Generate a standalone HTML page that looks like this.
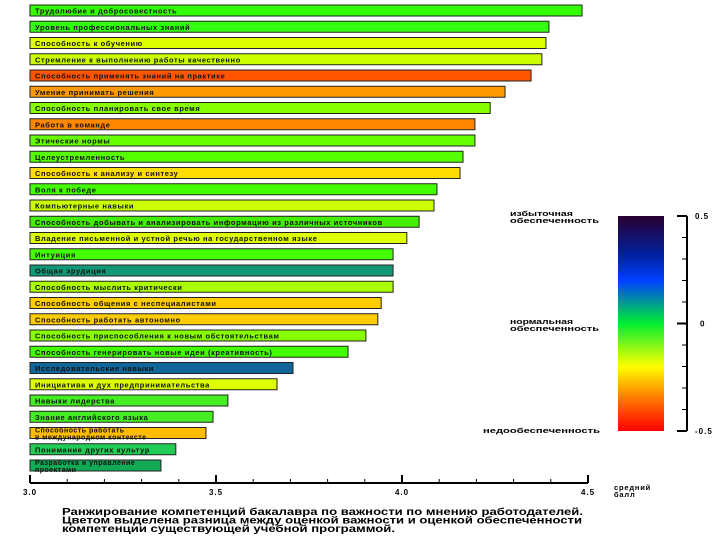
<!DOCTYPE html>
<html><head><meta charset="utf-8"><style>
body{margin:0;background:#fff;width:720px;height:540px;overflow:hidden;font-family:"Liberation Sans","DejaVu Sans",sans-serif;}
svg text{font-family:"Liberation Sans","DejaVu Sans",sans-serif;font-weight:bold;}
</style></head><body>
<svg id="chart" width="720" height="540">
<defs><linearGradient id="cb" x1="0" y1="0" x2="0" y2="1">
<stop offset="0" stop-color="#2a0030"/><stop offset="0.18" stop-color="#0020a0"/><stop offset="0.3" stop-color="#0040ff"/><stop offset="0.5" stop-color="#00ee30"/><stop offset="0.7" stop-color="#ffff00"/><stop offset="0.85" stop-color="#ff7700"/><stop offset="1" stop-color="#ff0000"/>
</linearGradient></defs>
<g id="bars"></g>
<g id="xaxis"></g>
<g id="cbar"></g>
</svg>
<script>
const categories=["Трудолюбие и добросовестность","Уровень профессиональных знаний","Способность к обучению","Стремление к выполнению работы качественно","Способность применять знаний на практике","Умение принимать решения","Способность планировать свое время","Работа в команде","Этические нормы","Целеустремленность","Способность к анализу и синтезу","Воля к победе","Компьютерные навыки","Способность добывать и анализировать информацию из различных источников","Владение письменной и устной речью на государственном языке","Интуиция","Общая эрудиция","Способность мыслить критически","Способность общения с неспециалистами","Способность работать автономно","Способность приспособления к новым обстоятельствам","Способность генерировать новые идеи (креативность)","Исследовательские навыки","Инициатива и дух предпринимательства","Навыки лидерства","Знание английского языка","Способность работать\nв международном контексте","Понимание других культур","Разработка и управление\nпроектами"];
const scores=[4.484,4.395,4.387,4.376,4.347,4.277,4.237,4.196,4.196,4.164,4.156,4.094,4.086,4.046,4.013,3.976,3.976,3.976,3.944,3.935,3.903,3.855,3.707,3.664,3.532,3.492,3.473,3.392,3.352];
const colors=["#33ff00","#33ff11","#ddff00","#ccff00","#ff5500","#ff9900","#88ff00","#ff8800","#66ff00","#55ff00","#ffdd00","#44ff00","#ccff00","#44ee00","#ddff00","#44ff00","#119977","#aaff00","#ffcc00","#ffcc00","#88ff00","#44ff00","#116699","#ddff00","#44ee22","#44ee22","#ffbb00","#22cc55","#11aa55"];
const xTicks=["3.0","3.5","4.0","4.5"];
const cbTicks=["0.5","0","-0.5"];
const NS="http://www.w3.org/2000/svg";
function x(v){return 30+(v-3)*372;}
function y(i){return 5+i*16.25;}
function mk(t,a,p){const e=document.createElementNS(NS,t);for(const k in a)e.setAttribute(k,a[k]);p.appendChild(e);return e;}
const bars=document.getElementById('bars');
categories.forEach((c,i)=>{
 const r=mk('rect',{x:30,y:y(i),width:x(scores[i])-30,height:11,fill:colors[i],stroke:'#222','stroke-width':1},bars);
 
 
 const lines=c.split('\n');
 lines.forEach((l,j)=>{
  const t=mk('text',{x:35,y:lines.length>1?y(i)+5+j*7:y(i)+8.5,'font-size':lines.length>1?7:7.5,'letter-spacing':lines.length>1?0.5:0.6,fill:'#111'},bars);
  t.textContent=l;
  
  
 });
});
const xa=document.getElementById('xaxis');
const base=483;
const al=mk('line',{x1:30,y1:base,x2:x(4.5),y2:base,stroke:'#000','stroke-width':2},xa);


for(let k=0;k<=15;k++){const v=3+k*0.1;const maj=k%5==0;mk('line',{x1:x(v),y1:base,x2:x(v),y2:base-(maj?8:4),stroke:'#000','stroke-width':maj?2:1},xa);}
xTicks.forEach(s=>{const t=mk('text',{x:x(+s),y:base+12,'font-size':8,'letter-spacing':1,'text-anchor':'middle'},xa);t.textContent=s;
 
 });
[['средний',614,490],['балл',614,497]].forEach(a=>{const t=mk('text',{x:a[1],y:a[2],'font-size':7.5,'letter-spacing':0.8},xa);t.textContent=a[0];
 
 });
[['Ранжирование компетенций бакалавра по важности по мнению работодателей.',521],['Цветом выделена разница между оценкой важности и оценкой обеспеченности',520],['компетенции существующей учебной программой.',333]].forEach((s,j)=>{const t=mk('text',{x:62,y:515+j*8.5,'font-size':10,textLength:s[1],lengthAdjust:'spacingAndGlyphs'},xa);t.textContent=s[0];
 
 });
const cb=document.getElementById('cbar');
const cr=mk('rect',{x:618,y:216,width:46,height:215,fill:'url(#cb)'},cb);


mk('line',{x1:687,y1:216,x2:687,y2:431,stroke:'#000','stroke-width':2},cb);
function cy(v){return 323.5-v*215;}
for(let k=-5;k<=5;k++){const maj=k%5==0;mk('line',{x1:687,y1:cy(k/10),x2:maj?677:682,y2:cy(k/10),stroke:'#000','stroke-width':maj?2:1},cb);}
cbTicks.forEach(s=>{const t=mk('text',{x:s=="0"?700:695,y:cy(+s)+3,'font-size':8,'letter-spacing':1},cb);t.textContent=s;
 
 });
[['избыточная',510,216,63],['обеспеченность',510,223,89],['нормальная',510,324,63],['обеспеченность',510,331,89],['недообеспеченность',483,433,117]].forEach(a=>{const t=mk('text',{x:a[1],y:a[2],'font-size':7.5,textLength:a[3],lengthAdjust:'spacingAndGlyphs'},cb);t.textContent=a[0];
 
 });
</script>
</body></html>
